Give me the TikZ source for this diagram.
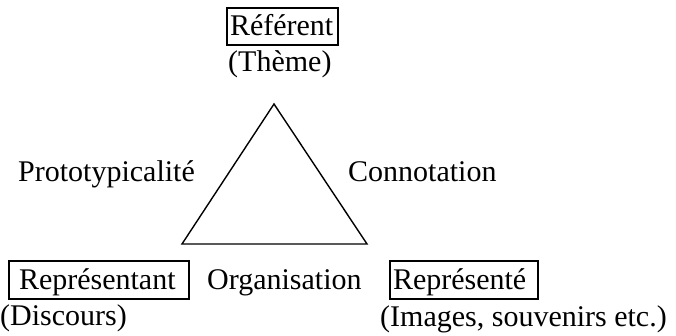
\documentclass[tikz,border=0pt]{standalone}
\usepackage{fontspec}
\setmainfont{Liberation Serif}
\begin{document}
\begin{tikzpicture}[x=1pt,y=-1pt,
  lbl/.style={anchor=base west,inner sep=0pt,font=\fontsize{30}{36}\selectfont},
  boxed/.style={lbl,draw,line width=2pt,text height=28pt,text depth=9.5pt}]
\useasboundingbox (0,0) rectangle (676,336);
% top
\node[boxed] (ref) at (226,36) {\kern3pt Référent\kern5pt};
\node[lbl] (theme) at (228,72) {(Thème)};
% sides
\node[lbl] (proto) at (18,182) {Prototypicalité};
\node[lbl] (conno) at (348,182) {Connotation};
% bottom
\node[boxed] (rpt) at (8,289) {\kern10pt Représentant\kern13pt};
\node[lbl] (disc) at (0,325) {(Discours)};
\node[lbl] (orga) at (207,289) {Organisation};
\node[boxed] (rpe) at (389,289) {\kern3pt Représenté\kern12pt};
\node[lbl] (imgs) at (380,326) {(Images, souvenirs etc.)};
% triangle
\coordinate (A) at (274,104);
\coordinate (B) at (182,244);
\coordinate (C) at (367,244);
\draw[line width=1.4pt,line join=miter] (A) -- (B) -- (C) -- cycle;
\end{tikzpicture}
\end{document}
